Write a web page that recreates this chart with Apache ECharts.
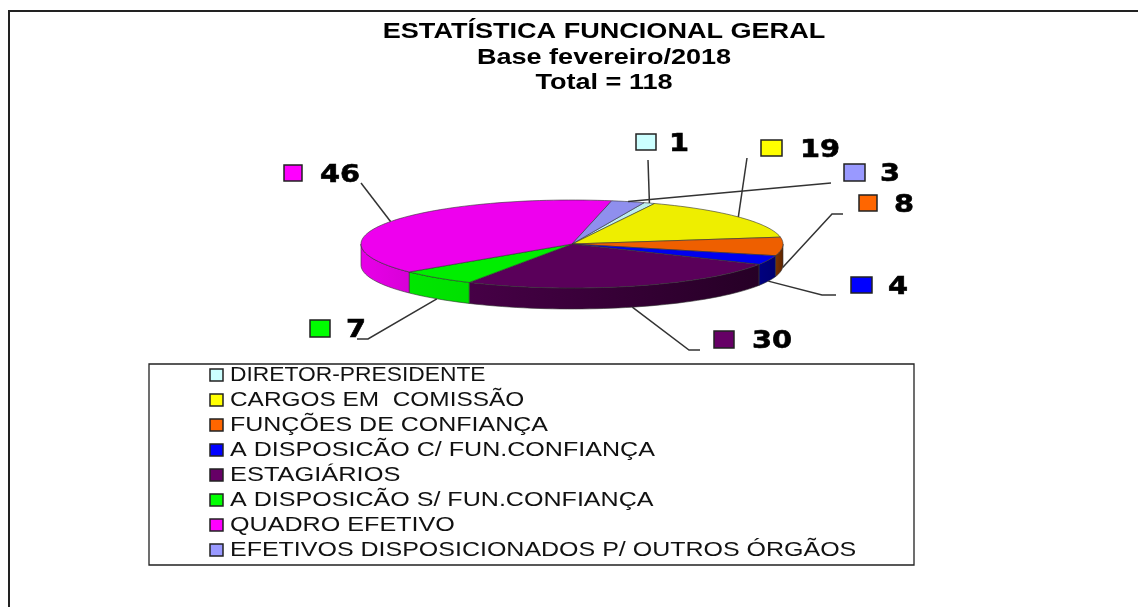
<!DOCTYPE html>
<html>
<head>
<meta charset="utf-8">
<title>Estatística funcional geral</title>
<script src="https://cdn.jsdelivr.net/npm/echarts@6/dist/echarts.min.js"></script>
<style>
html, body { margin: 0; padding: 0; background: #fff; }
#main { width: 1138px; height: 607px; }
</style>
</head>
<body>
<div id="main"></div>
<script>
/* dados */
var categories = [
    'DIRETOR-PRESIDENTE',
    'CARGOS EM  COMISSÃO',
    'FUNÇÕES DE CONFIANÇA',
    'A DISPOSICÃO C/ FUN.CONFIANÇA',
    'ESTAGIÁRIOS',
    'A DISPOSICÃO S/ FUN.CONFIANÇA',
    'QUADRO EFETIVO',
    'EFETIVOS DISPOSICIONADOS P/ OUTROS ÓRGÃOS'
];
var values = [1, 19, 8, 4, 30, 7, 46, 3];
var titleLines = ['ESTATÍSTICA FUNCIONAL GERAL', 'Base fevereiro/2018', 'Total = 118'];

/* cores: legenda, topo da fatia, lateral */
var keyColors = ['#CCFFFF', '#FFFF00', '#FF6600', '#0000FF', '#660066', '#00FF00', '#FF00FF', '#9999FF'];
var topColors = ['#BDEDED', '#EEEE00', '#EE5F00', '#0000EE', '#5A005A', '#00EE00', '#EE00EE', '#8F8FEE'];
var wallColors = [
    ['#9ac0c0', '#9ac0c0'], ['#a0a000', '#a0a000'], ['#803400', '#5c2400'], ['#000080', '#000070'],
    ['#460046', '#260026'], ['#00E600', '#00E000'], ['#E800E8', '#D800D8'], ['#7070c0', '#7070c0']
];

/* elipse da pizza */
var CX = 572, CY = 244, RX = 211, RY = 44, DEPTH = 21;
var START = 20;

/* a imagem original esta esticada na horizontal */
var legendStretch = [1.086, 1.162, 1.19, 1.194, 1.21, 1.194, 1.197, 1.19];
var titleStretch = 1.23;

/* posicao dos rotulos: caixa, texto, cotovelos da linha */
var labelPos = [
    { box: [636, 134, 20, 16], text: [679, 145], line: [[648, 160]] },
    { box: [761, 140, 21, 16], text: [820, 151], line: [[747, 158]] },
    { box: [859, 195, 18, 16], text: [904, 206], line: [[843, 214], [832, 214]] },
    { box: [851, 277, 21, 16], text: [898, 288], line: [[836, 295], [822, 295]] },
    { box: [714, 331, 20, 17], text: [772, 342], line: [[700, 350], [689, 350]] },
    { box: [310, 320, 20, 17], text: [356, 331], line: [[357, 339], [368, 339]] },
    { box: [284, 165, 18, 16], text: [340, 176], line: [[361, 183]] },
    { box: [844, 164, 21, 17], text: [890, 175], line: [[831, 183]] }
];

var total = values.reduce(function (a, b) { return a + b; }, 0);
var slices = [];
var acc = START;
for (var i = 0; i < values.length; i++) {
    var sweep = values[i] / total * 360;
    slices.push([acc, acc + sweep]);
    acc += sweep;
}

/* ponto na elipse; angulo em graus, sentido horario a partir do topo */
function rim(deg, drop) {
    var r = deg * Math.PI / 180;
    return [CX + RX * Math.sin(r), CY - RY * Math.cos(r) + (drop || 0)];
}

function arc(a0, a1, drop) {
    var pts = [];
    var n = Math.max(2, Math.ceil((a1 - a0) / 2));
    for (var k = 0; k <= n; k++) {
        pts.push(rim(a0 + (a1 - a0) * k / n, drop));
    }
    return pts;
}

/* parte da fatia que aparece na frente (90 a 270 graus) */
function wallPoints(a0, a1) {
    var lo = Math.max(a0, 90), hi = Math.min(a1, 270);
    if (hi <= lo) return null;
    return arc(lo, hi, 0).concat(arc(lo, hi, DEPTH).reverse());
}

function renderSlice(params, api) {
    var idx = params.seriesIndex;
    var s = slices[idx];
    var children = [];
    var wall = wallPoints(s[0], s[1]);
    if (wall) {
        children.push({
            type: 'polygon',
            shape: { points: wall },
            style: {
                fill: new echarts.graphic.LinearGradient(0, 0, 1, 0, [
                    { offset: 0, color: wallColors[idx][0] },
                    { offset: 1, color: wallColors[idx][1] }
                ]),
                stroke: '#333',
                lineWidth: 0.6
            }
        });
    }
    children.push({
        type: 'polygon',
        shape: { points: [[CX, CY]].concat(arc(s[0], s[1], 0)) },
        style: { fill: topColors[idx], stroke: '#333', lineWidth: 0.6 }
    });
    return { type: 'group', children: children };
}

function renderLabel(params, api) {
    var idx = params.dataIndex;
    var pos = labelPos[idx];
    var mid = (slices[idx][0] + slices[idx][1]) / 2;
    var norm = mid % 360;
    var anchor = rim(mid, norm > 90 && norm < 270 ? DEPTH : 0);
    return {
        type: 'group',
        children: [
            {
                type: 'polyline',
                shape: { points: pos.line.concat([anchor]) },
                style: { fill: null, stroke: '#333', lineWidth: 1.5 }
            },
            {
                type: 'rect',
                shape: { x: pos.box[0], y: pos.box[1], width: pos.box[2], height: pos.box[3] },
                style: { fill: keyColors[idx], stroke: '#222', lineWidth: 1.5 }
            },
            {
                type: 'text',
                x: pos.text[0],
                y: pos.text[1],
                scaleX: 1.2,
                style: {
                    text: String(api.value(0)),
                    fill: '#000',
                    stroke: '#000',
                    lineWidth: 0.6,
                    font: 'bold 24px "DejaVu Sans"',
                    align: 'center',
                    verticalAlign: 'middle'
                }
            }
        ]
    };
}

var series = categories.map(function (name, i) {
    return {
        name: name,
        type: 'custom',
        coordinateSystem: 'none',
        silent: true,
        animation: false,
        data: [[values[i]]],
        renderItem: renderSlice
    };
});
series.push({
    name: 'rotulos',
    type: 'custom',
    coordinateSystem: 'none',
    silent: true,
    animation: false,
    z: 5,
    data: values.map(function (v) { return [v]; }),
    renderItem: renderLabel
});

/* titulo, moldura e legenda */
var elements = [
    {
        type: 'polyline',
        silent: true,
        shape: { points: [[9, 607], [9, 11], [1138, 11]] },
        style: { fill: null, stroke: '#222', lineWidth: 2 }
    },
    {
        type: 'rect',
        silent: true,
        shape: { x: 149, y: 364, width: 765, height: 201 },
        style: { fill: '#fff', stroke: '#222', lineWidth: 1.3 }
    }
];
titleLines.forEach(function (line, i) {
    elements.push({
        type: 'text',
        silent: true,
        x: 604,
        y: 32 + i * 25.5,
        scaleX: titleStretch,
        style: {
            text: line,
            fill: '#000',
            font: 'bold 22px "Liberation Sans"',
            align: 'center',
            verticalAlign: 'middle'
        }
    });
});
categories.forEach(function (name, i) {
    elements.push({
        type: 'rect',
        silent: true,
        shape: { x: 210, y: 369 + i * 25, width: 13, height: 12 },
        style: { fill: keyColors[i], stroke: '#222', lineWidth: 1.5 }
    });
    elements.push({
        type: 'text',
        silent: true,
        x: 230,
        y: 375.5 + i * 25,
        scaleX: legendStretch[i],
        style: {
            text: name,
            fill: '#111',
            font: '21px "Liberation Sans"',
            align: 'left',
            verticalAlign: 'middle'
        }
    });
});

var myChart = echarts.init(document.getElementById('main'));
myChart.setOption({
    backgroundColor: '#fff',
    animation: false,
    graphic: elements,
    series: series
});
</script>
</body>
</html>
